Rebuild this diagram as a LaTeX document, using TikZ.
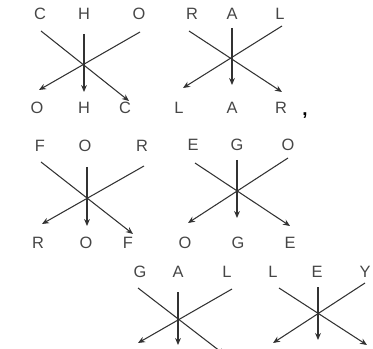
\documentclass[tikz,border=0pt]{standalone}
\usepackage{fontspec}
\setmainfont{Liberation Sans}
\usetikzlibrary{arrows.meta}
\definecolor{lettergray}{RGB}{70, 70, 70}
\definecolor{linegray}{RGB}{50, 50, 50}

\begin{document}
\begin{tikzpicture}[x=0.03cm, y=-0.03cm,
    letter/.style={text=lettergray, font=\fontsize{14}{16}\selectfont, inner sep=0pt},
    cross/.style={linegray, line width=0.9pt, -{Stealth[length=6pt, width=5pt]}}]
        \path[use as bounding box, clip] (0,0) rectangle (373,349);
        % CHO -> OHC
        \node[letter] (cho1) at (40,14)  {C};
        \node[letter] (cho2) at (84,14)  {H};
        \node[letter] (cho3) at (139,14) {O};
        \node[letter] (ohc1) at (37,108)  {O};
        \node[letter] (ohc2) at (84,108)  {H};
        \node[letter] (ohc3) at (125,108) {C};
        \coordinate (cho1s) at (41,31);  \coordinate (cho1e) at (129,101);
        \coordinate (cho2s) at (84,34);  \coordinate (cho2e) at (84,92);
        \coordinate (cho3s) at (140,32); \coordinate (cho3e) at (39,90);
        \draw[cross] (cho1s) -- (cho1e);
        \draw[cross] (cho2s) -- (cho2e);
        \draw[cross] (cho3s) -- (cho3e);
        % RAL -> LAR
        \node[letter] (ral1) at (192,14) {R};
        \node[letter] (ral2) at (232,14) {A};
        \node[letter] (ral3) at (280,14) {L};
        \node[letter] (lar1) at (179,108) {L};
        \node[letter] (lar2) at (232,108) {A};
        \node[letter] (lar3) at (281,108) {R};
        \coordinate (ral1s) at (189,31);  \coordinate (ral1e) at (282,92);
        \coordinate (ral2s) at (232,28);  \coordinate (ral2e) at (232,85);
        \coordinate (ral3s) at (282,26);  \coordinate (ral3e) at (183,88);
        \draw[cross] (ral1s) -- (ral1e);
        \draw[cross] (ral2s) -- (ral2e);
        \draw[cross] (ral3s) -- (ral3e);
        \node[text=black, font=\fontsize{16}{18}\bfseries\selectfont, inner sep=0pt] (comma) at (305,116) {,};
        % FOR -> ROF
        \node[letter] (for1) at (40,146)  {F};
        \node[letter] (for2) at (85,146)  {O};
        \node[letter] (for3) at (142,146) {R};
        \node[letter] (rof1) at (38,243)  {R};
        \node[letter] (rof2) at (86,243)  {O};
        \node[letter] (rof3) at (128,243) {F};
        \coordinate (for1s) at (41,162);  \coordinate (for1e) at (133,234);
        \coordinate (for2s) at (87,167);  \coordinate (for2e) at (87,226);
        \coordinate (for3s) at (144,166); \coordinate (for3e) at (42,224);
        \draw[cross] (for1s) -- (for1e);
        \draw[cross] (for2s) -- (for2e);
        \draw[cross] (for3s) -- (for3e);
        % EGO -> OGE
        \node[letter] (ego1) at (193,145) {E};
        \node[letter] (ego2) at (237,145) {G};
        \node[letter] (ego3) at (288,145) {O};
        \node[letter] (oge1) at (185,243) {O};
        \node[letter] (oge2) at (238,243) {G};
        \node[letter] (oge3) at (290,243) {E};
        \coordinate (ego1s) at (195,163); \coordinate (ego1e) at (290,226);
        \coordinate (ego2s) at (237,160); \coordinate (ego2e) at (237,218);
        \coordinate (ego3s) at (288,158); \coordinate (ego3e) at (188,223);
        \draw[cross] (ego1s) -- (ego1e);
        \draw[cross] (ego2s) -- (ego2e);
        \draw[cross] (ego3s) -- (ego3e);
        % GAL
        \node[letter] (gal1) at (140,272) {G};
        \node[letter] (gal2) at (178,272) {A};
        \node[letter] (gal3) at (227,272) {L};
        \coordinate (gal1s) at (138,288); \coordinate (gal1e) at (225,355);
        \coordinate (gal2s) at (178,292); \coordinate (gal2e) at (178,345);
        \coordinate (gal3s) at (232,289); \coordinate (gal3e) at (138,343);
        \draw[cross] (gal1s) -- (gal1e);
        \draw[cross] (gal2s) -- (gal2e);
        \draw[cross] (gal3s) -- (gal3e);
        % LEY
        \node[letter] (ley1) at (273,272) {L};
        \node[letter] (ley2) at (317,272) {E};
        \node[letter] (ley3) at (365,272) {Y};
        \coordinate (ley1s) at (279,288); \coordinate (ley1e) at (367,345);
        \coordinate (ley2s) at (318,287); \coordinate (ley2e) at (318,340);
        \coordinate (ley3s) at (365,283); \coordinate (ley3e) at (273,343);
        \draw[cross] (ley1s) -- (ley1e);
        \draw[cross] (ley2s) -- (ley2e);
        \draw[cross] (ley3s) -- (ley3e);
      \end{tikzpicture}
\end{document}
